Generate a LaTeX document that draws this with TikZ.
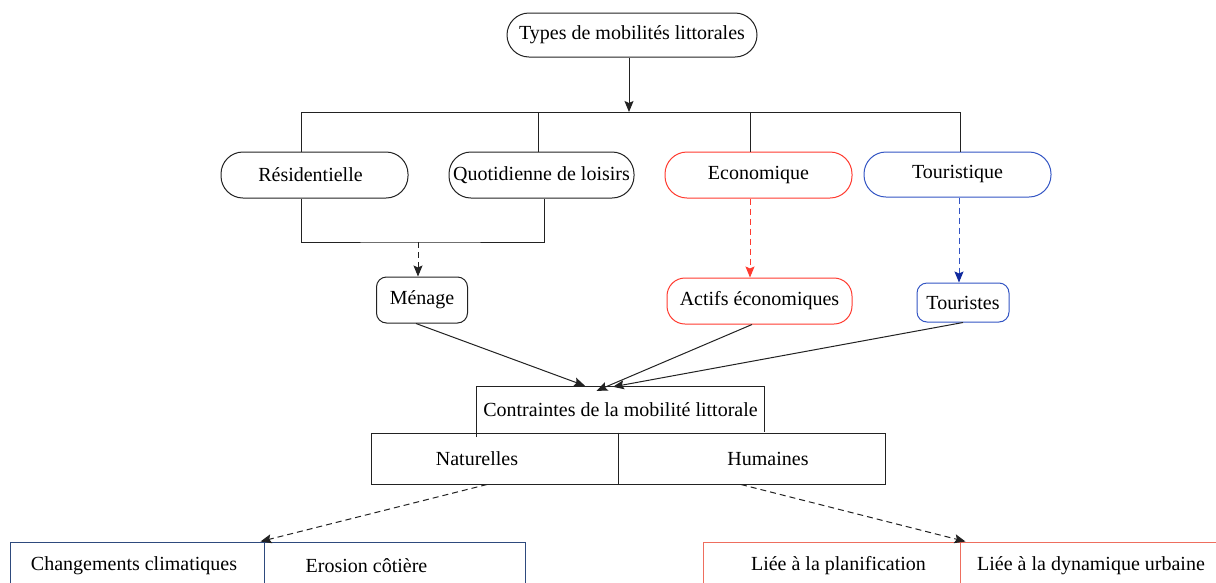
\documentclass[tikz,border=0pt]{standalone}
\usepackage{fontspec}
\setmainfont{Liberation Serif}
\usetikzlibrary{arrows.meta}
\definecolor{myred}{HTML}{FF3B30}
\definecolor{myblue}{HTML}{3355C4}
\definecolor{mybluedark}{HTML}{102A9E}
\definecolor{mynavy}{HTML}{2E4A7D}
\definecolor{mysalmon}{HTML}{EE6E5E}
\definecolor{myline}{HTML}{222222}
\begin{document}
\begin{tikzpicture}[x=1pt,y=-1pt,
  font=\fontsize{20}{24}\selectfont,
  every node/.style={inner sep=0pt},
  pill/.style={draw=myline, line width=1pt, rounded corners=22pt, minimum height=46pt},
  smallbox/.style={draw=myline, line width=1pt, rounded corners=10pt, minimum height=46pt},
  sq/.style={draw=myline, line width=1pt, minimum height=48pt},
  conn/.style={draw=myline, line width=1pt},
  arr/.style={conn, -{Stealth[length=11pt,width=9pt,inset=2pt]}},
  dsh/.style={dash pattern=on 6pt off 4pt}
]
\clip (0,0) rectangle (1216,582);
\fill[white] (0,0) rectangle (1216,582);

% top
\node[pill, minimum width=250pt, minimum height=44pt] (top) at (632,35) {Types de mobilités littorales};

% second row
\node[pill, minimum width=187pt] (res) at (314.5,175) {Résidentielle\hspace*{8pt}};
\node[pill, minimum width=185pt] (quo) at (541.5,175) {Quotidienne de loisirs};
\node[pill, draw=myred, minimum width=187pt] (eco) at (758.5,175) {Economique};
\node[pill, draw=myblue, minimum width=187pt, minimum height=45pt] (tou) at (957.5,174.5) {Touristique};

% third row
\node[smallbox, minimum width=91pt] (men) at (422,300) {Ménage};
\node[pill, draw=myred, rounded corners=18pt, minimum width=185pt] (act) at (759.5,301) {Actifs économiques};
\node[smallbox, draw=myblue, minimum width=92pt, minimum height=39pt] (tous) at (963,302.5) {Touristes};

% constraints
\node[minimum width=287pt, minimum height=46pt] (cont) at (620.5,410) {Contraintes de la mobilité littorale};
\node[sq, minimum width=247pt, minimum height=51pt] (nat) at (494.5,458.5) {Naturelles\hspace*{35pt}};
\node[sq, minimum width=267pt, minimum height=51pt] (hum) at (751.5,458.5) {\hspace*{33pt}Humaines};

% bottom
\node[sq, draw=mynavy, minimum width=254pt, minimum height=48pt] (cc) at (137,566) {Changements climatiques\hspace*{6pt}};
\node[sq, draw=mynavy, minimum width=261pt, minimum height=48pt] (ero) at (394.5,566) {Erosion côtière\hspace*{56pt}};
\node[sq, draw=mysalmon, minimum width=257pt, minimum height=48pt] (lp) at (831.5,566) {\hspace*{14pt}Liée à la planification};
\node[sq, draw=mysalmon, minimum width=262pt, minimum height=48pt] (ld) at (1091,566) {Liée à la dynamique urbaine};

% bus
\coordinate (bus) at (629,112);
\coordinate (busL) at (301,112);
\coordinate (busR) at (960,112);
\draw[arr] (top.south -| bus) -- (bus);
\draw[conn] (res.north -| busL) -- (busL) -- (busR) -- (tou.north -| busR);
\draw[conn] ([xshift=-3.5pt]quo.north) -- ([xshift=-3.5pt]quo.north |- bus);
\draw[conn] ([xshift=-8.5pt]eco.north) -- ([xshift=-8.5pt]eco.north |- bus);

% bracket
\coordinate (brk) at (418,242);
\draw[conn] (res.south -| busL) |- (brk) -| ([xshift=2.5pt]quo.south);
\draw[arr, dsh] (brk) -- (brk |- men.north);

% coloured dashed arrows
\draw[arr, draw=myred, dsh, -{Stealth[length=11pt,width=9pt,inset=2pt,color=myred]}] ([xshift=-8.5pt]eco.south) -- ([xshift=-8.5pt]eco.south |- act.north);
\draw[arr, draw=myblue, dsh, -{Stealth[length=11pt,width=9pt,inset=2pt,color=mybluedark]}] ([xshift=1.5pt]tou.south) -- ([xshift=1.5pt]tou.south |- tous.north);

% converging arrows
\draw[arr] ([xshift=-6pt]men.south) -- ([xshift=-35.5pt, yshift=1pt]cont.north);
\draw[arr] ([xshift=-7.5pt]act.south) -- ([xshift=-24pt,yshift=-4pt]cont.north);
\draw[arr] (tous.south) -- ([xshift=-7.5pt]cont.north);

% constraints frame
\draw[conn] ([yshift=-4pt]cont.south west) -- (cont.north west) -- (cont.north east) -- ([yshift=1pt]cont.south east);
\draw[conn] (nat.north east) -- ([yshift=4pt]nat.south east);

% dashed arrows to bottom
\draw[arr, dsh] ([xshift=-7.5pt]nat.south) -- ([xshift=-4pt]cc.north east);
\draw[arr, dsh] ([xshift=-10.5pt]hum.south) -- ([xshift=5pt]lp.north east);
\end{tikzpicture}
\end{document}
